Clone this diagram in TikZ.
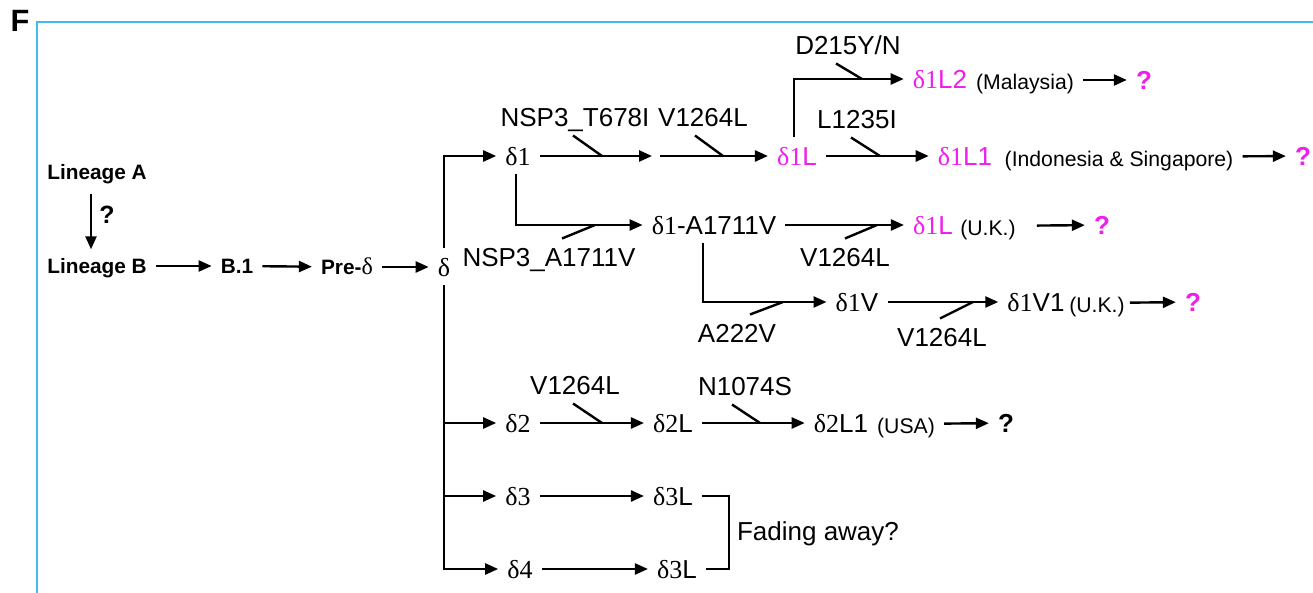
\documentclass[tikz,border=0pt]{standalone}
\usepackage{fontspec}
\setmainfont{Liberation Sans}
\newfontfamily\greekserif{Liberation Serif}
\usetikzlibrary{arrows.meta}
\definecolor{lineblue}{RGB}{64,190,235}
\definecolor{strain}{RGB}{238,30,238}
\newcommand\dlt[1]{{\greekserif δ#1}}
\begin{document}
\begin{tikzpicture}[x=.5pt,y=-.5pt,line width=1.2pt,
  txt/.style={font=\fontsize{13}{15}\selectfont,text height=9.3pt,text depth=0pt,inner xsep=4pt,inner ysep=4pt},
  bld/.style={font=\bfseries\fontsize{10.4}{12}\selectfont,text height=7.5pt,text depth=0pt,inner xsep=4pt,inner ysep=4pt},
  note/.style={font=\fontsize{10.6}{12}\selectfont,text height=9.3pt,text depth=0pt,inner xsep=4pt,inner ysep=4pt},
  qm/.style={font=\bfseries\fontsize{13}{15}\selectfont,text height=9.3pt,text depth=0pt,inner xsep=4pt,inner ysep=4pt},
  arr/.style={-{Triangle[length=6.5pt,width=5.5pt]}}]
\useasboundingbox (0,0) rectangle (1313,593);
\draw[lineblue,line width=1pt] (37,596) -- (37,22) -- (1316,22);
\node[font=\bfseries\fontsize{15.4}{17}\selectfont,text height=11pt,text depth=0pt,inner sep=0pt] (F) at (20,21) {F};
\node[bld] (LA) at (97,172) {Lineage A};
\node[bld] (LB) at (97,266) {Lineage B};
\node[qm,font=\bfseries\fontsize{12.5}{14}\selectfont] (q0) at (107,214) {?};
\draw[arr,shorten <=2.5pt] ([xshift=-3pt]LA.south) -- ([xshift=-3pt]LB.north);
\node[bld] (B1) at (237,266) {B.1};
\node[bld] (preD) at (347,267) {Pre-{\greekserif\mdseries\fontsize{12}{12}\selectfont δ}};
\node[txt] (d) at (444,267) {\dlt{}};
\draw[arr] (LB) -- (B1);
\draw[arr] (B1) -- (preD);
\draw[arr] (preD) -- (d);
\node[txt] (d1) at (518,156) {\dlt{1}};
\draw[arr] (d.north) |- (d1);
\node[txt] (t1) at (575,117) {NSP3\_T678I};
\coordinate (k1) at (602,156);
\coordinate (m1) at (656,156);
\draw[arr,shorten >=2pt] (d1) -- (m1);
\draw ([xshift=-1pt]t1.south) -- (k1);
\node[txt] (t2) at (703,117) {V1264L};
\node[txt,text=strain] (d1L) at (797,156) {\dlt{1}L};
\coordinate (k2) at (723,156);
\draw[arr,shorten <=2pt] (m1) -- (d1L);
\draw ([xshift=-4pt]t2.south) -- (k2);
\node[txt] (t3) at (848,45) {D215Y/N};
\node[txt,text=strain] (d1L2) at (940,79) {\dlt{1}L2};
\coordinate (k3) at (862,79);
\draw[arr] ([xshift=-1.5pt]d1L.north) |- (d1L2);
\draw ([xshift=-6pt]t3.south) -- (k3);
\node[note] (mal) at (1025,80) {(Malaysia)};
\node[qm,text=strain] (q1) at (1144,80) {?};
\draw[arr] (mal) -- (q1);
\node[txt] (t4) at (857,119) {L1235I};
\node[txt,text=strain] (d1L1) at (965,156) {\dlt{1}L1};
\coordinate (k4) at (880,156);
\draw[arr] (d1L) -- (d1L1);
\draw ([xshift=-3pt]t4.south) -- (k4);
\node[note] (ins) at (1119,157) {(Indonesia \& Singapore)};
\node[qm,text=strain] (q2) at (1303,156) {?};
\draw[arr] (ins) -- (q2);
\node[txt] (d1a) at (714,225) {\dlt{1}-A1711V};
\node[txt] (t5) at (549,257) {NSP3\_A1711V};
\coordinate (k5) at (595,225);
\draw[arr] ([xshift=-1pt]d1.south) |- (d1a);
\draw ([xshift=6.5pt]t5.north) -- (k5);
\node[txt,text=strain] (d1Lb) at (933,225) {\dlt{1}L};
\node[note] (uk1) at (988,226) {(U.K.)};
\node[qm,text=strain] (q3) at (1102,225) {?};
\node[txt] (t6) at (845,257) {V1264L};
\coordinate (k6) at (877,225);
\draw[arr] (d1a) -- (d1Lb);
\draw (t6.north) -- (k6);
\draw[arr,shorten <=6pt] (uk1) -- (q3);
\node[txt] (d1V) at (857,302) {\dlt{1}V};
\node[txt] (t7) at (737,333) {A222V};
\coordinate (k7) at (783,302);
\draw[arr] ([xshift=-5.5pt]d1a.south) |- (d1V);
\draw ([xshift=6.5pt]t7.north) -- (k7);
\node[txt] (d1V1) at (1036,302) {\dlt{1}V1};
\node[note] (uk2) at (1097,303) {(U.K.)};
\node[qm,text=strain] (q4) at (1193,302) {?};
\node[txt] (t8) at (942,337) {V1264L};
\coordinate (k8) at (973,302);
\draw[arr] (d1V) -- (d1V1);
\draw ([xshift=-1pt]t8.north) -- (k8);
\draw[arr,shorten <=-2pt] (uk2) -- (q4);
\node[txt] (d2) at (518,423) {\dlt{2}};
\node[txt] (d2L) at (673,423) {\dlt{2}L};
\node[txt] (d2L1) at (841,423) {\dlt{2}L1};
\node[note] (usa) at (906,424) {(USA)};
\node[qm] (q5) at (1006,423) {?};
\node[txt] (t9) at (575,385) {V1264L};
\node[txt] (t10) at (745,386) {N1074S};
\coordinate (k9) at (602,423);
\coordinate (k10) at (760,423);
\draw[arr] (d.south) |- (d2);
\draw[arr] (d2) -- (d2L);
\draw[arr] (d2L) -- (d2L1);
\draw[arr] (usa) -- (q5);
\draw ([xshift=-1pt]t9.south) -- (k9);
\draw ([xshift=-6.5pt]t10.south) -- (k10);
\node[txt] (d3) at (518,496) {\dlt{3}};
\node[txt] (d3L) at (673,496) {\dlt{3}L};
\node[txt] (d4) at (520,569) {\dlt{4}};
\node[txt] (d4L) at (677,569) {\dlt{3}L};
\draw[arr] (d.south) |- (d3);
\draw[arr] (d.south) |- (d4);
\draw[arr] (d3) -- (d3L);
\draw[arr] (d4) -- (d4L);
\draw (d3L.east) -- ++(27,0) |- (d4L.east);
\node[txt] (fade) at (818,531) {Fading away?};
\end{tikzpicture}
\end{document}
